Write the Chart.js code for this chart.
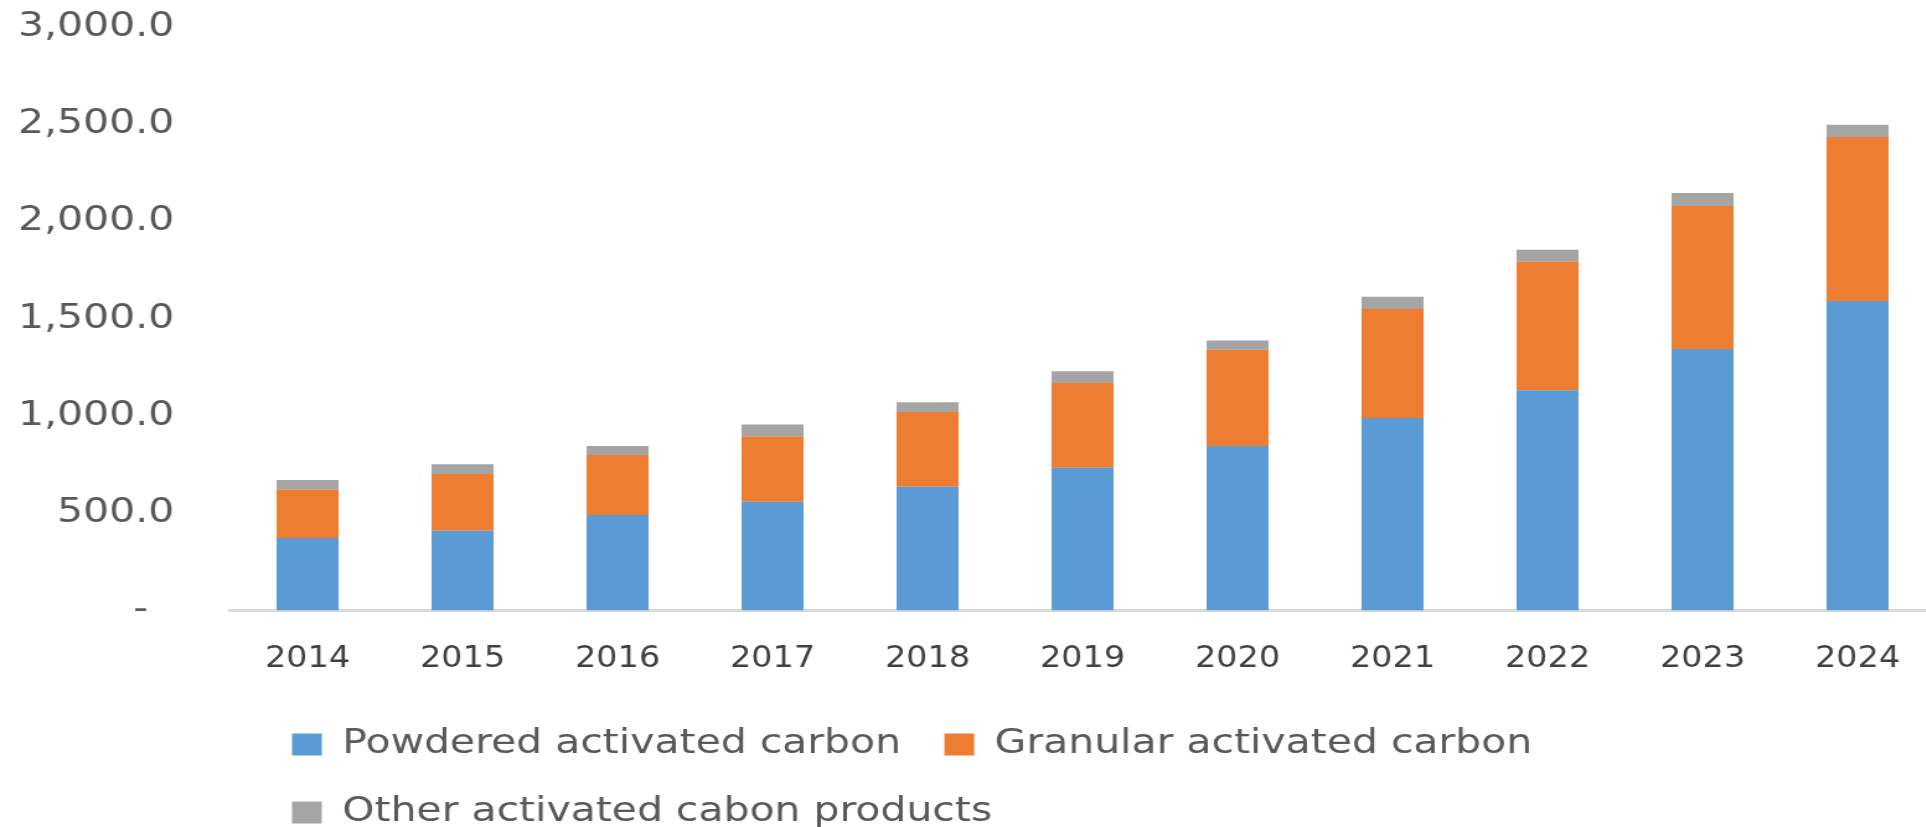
<!DOCTYPE html>
<html>
<head>
<meta charset="utf-8">
<script src="https://cdn.jsdelivr.net/npm/chart.js@4.4.1/dist/chart.umd.min.js"></script>
<style>
html,body{margin:0;padding:0;background:#fff;overflow:hidden;width:1926px;height:827px}
/* source picture is stretched sideways, so stretch the canvas the same way */
#wrap{transform:scaleX(1.24);transform-origin:0 0;width:1570px;height:839px}
</style>
</head>
<body>
<div id="wrap"><canvas id="chart" width="1570" height="839"></canvas></div>
<script>
// data
const years = ['2014','2015','2016','2017','2018','2019','2020','2021','2022','2023','2024'];
const powdered = [373, 410, 492, 559, 637, 735, 846, 990, 1133, 1345, 1593];
const granular = [248, 293, 308, 338, 384, 436, 496, 562, 662, 737, 843];
const other    = [51, 49, 46, 60, 51, 60, 48, 63, 61, 67, 63];
const seriesNames = ['Powdered activated carbon', 'Granular activated carbon', 'Other activated cabon products'];
const yMax = 3000, yStep = 500;

Chart.defaults.font.family = "'DejaVu Sans', Verdana, sans-serif";
Chart.defaults.font.size = 33;
Chart.defaults.color = '#595959';

// nudge the legend right so both rows start under the 2014 bar
const legendShift = {
  id: 'legendShift',
  afterLayout(chart) { const lg = chart.legend; lg.left += 15; lg.right += 15; }
};

new Chart(document.getElementById('chart'), {
  type: 'bar',
  data: {
    labels: years,
    datasets: [
      {label: seriesNames[0], data: powdered, backgroundColor: '#5B9BD5'},
      {label: seriesNames[1], data: granular, backgroundColor: '#ED7D31'},
      {label: seriesNames[2], data: other, backgroundColor: '#A5A5A5'}
    ]
  },
  options: {
    responsive: false,
    animation: false,
    devicePixelRatio: 1,
    barPercentage: 0.4,
    categoryPercentage: 1,
    layout: {padding: {top: 27.5, left: 0, right: 9.5, bottom: 0}},
    plugins: {
      tooltip: {enabled: false},
      legend: {
        position: 'bottom',
        align: 'start',
        fullSize: false,
        labels: {boxWidth: 24, boxHeight: 22, padding: 35, color: '#595959'}
      }
    },
    scales: {
      x: {
        stacked: true,
        grid: {display: false, drawTicks: false},
        border: {display: true, color: '#d9d9d9', width: 3},
        ticks: {
          padding: 31, maxRotation: 0, autoSkip: false, color: '#404040',
          font: {family: "'DejaVu Sans Condensed', 'DejaVu Sans', sans-serif", size: 30}
        },
        afterFit(s) { s.height = 82.5; }
      },
      y: {
        stacked: true,
        min: 0, max: yMax,
        grid: {display: false, drawTicks: false},
        border: {display: false},
        ticks: {
          stepSize: yStep,
          padding: 45,
          callback: v => v === 0 ? '-  ' : v.toLocaleString('en-US', {minimumFractionDigits: 1, maximumFractionDigits: 1})
        },
        // fixed axis width, and no extra vertical room for the tick padding
        afterFit(s) { s.width = 185.5; s.paddingTop = 0; s.paddingBottom = 0; }
      }
    }
  },
  plugins: [legendShift]
});
</script>
</body>
</html>
